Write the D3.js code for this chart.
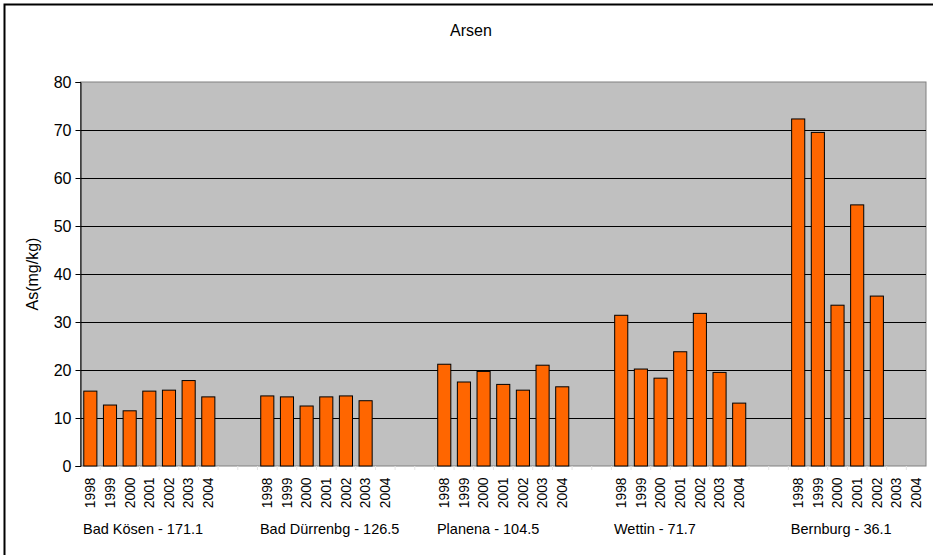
<!DOCTYPE html>
<html>
<head>
<meta charset="utf-8">
<script src="https://cdn.jsdelivr.net/npm/d3@7/dist/d3.min.js"></script>
<style>
  html, body { margin: 0; padding: 0; background: #fff; }
  svg { display: block; font-family: "Liberation Sans", Arial, sans-serif; }
</style>
</head>
<body>
<svg id="chart" width="933" height="555"></svg>
<script>
// ---- data ----
const title = "Arsen";
const yAxisTitle = "As(mg/kg)";
const years = ["1998", "1999", "2000", "2001", "2002", "2003", "2004"];
const groupLabels = ["Bad Kösen - 171.1", "Bad Dürrenbg - 126.5", "Planena - 104.5", "Wettin - 71.7", "Bernburg - 36.1"];
const badKoesen   = [15.6, 12.7, 11.5, 15.6, 15.8, 17.8, 14.4];
const badDuerrenbg = [14.6, 14.4, 12.5, 14.4, 14.6, 13.6, null];
const planena     = [21.2, 17.5, 19.7, 17.0, 15.8, 21.0, 16.5];
const wettin      = [31.4, 20.2, 18.3, 23.8, 31.8, 19.5, 13.1];
const bernburg    = [72.3, 69.5, 33.5, 54.4, 35.4, null, null];
const yTicks = [0, 10, 20, 30, 40, 50, 60, 70, 80];

const seriesByGroup = [badKoesen, badDuerrenbg, planena, wettin, bernburg];

// build slot list (7 years per group, 2 empty slots between groups)
const slots = [];
seriesByGroup.forEach((vals, gi) => {
  years.forEach((yr, yi) => slots.push({ key: gi + "-" + yr, group: gi, year: yr, value: vals[yi], yi }));
  if (gi < seriesByGroup.length - 1) {
    slots.push({ key: gi + "-gapA", spacer: true });
    slots.push({ key: gi + "-gapB", spacer: true });
  }
});

const svg = d3.select("#chart");
const plot = { left: 80.5, right: 926, top: 82, bottom: 466 };

// outer frame (bottom and right edges fall outside the picture)
svg.append("rect")
  .attr("x", 4.5).attr("y", 4.5)
  .attr("width", 940).attr("height", 560)
  .attr("fill", "#fff").attr("stroke", "#000").attr("stroke-width", 2);

const x = d3.scaleBand()
  .domain(slots.map(d => d.key))
  .range([plot.left, plot.right])
  .paddingInner(1 / 3)
  .paddingOuter(1 / 6);

const y = d3.scaleLinear().domain([0, 80]).range([plot.bottom, plot.top]);

// plot area
svg.append("rect")
  .attr("x", plot.left).attr("y", plot.top)
  .attr("width", plot.right - plot.left).attr("height", plot.bottom - plot.top)
  .attr("fill", "#C0C0C0").attr("stroke", "#808080").attr("stroke-width", 1);

// gridlines
svg.append("g").selectAll("line")
  .data(yTicks.filter(t => t > 0 && t < 80))
  .join("line")
  .attr("x1", plot.left).attr("x2", plot.right)
  .attr("y1", d => Math.round(y(d)) + 0.5).attr("y2", d => Math.round(y(d)) + 0.5)
  .attr("stroke", "#000").attr("stroke-width", 1);

// y axis
const yAxis = d3.axisLeft(y).tickValues(yTicks).tickSize(5).tickPadding(4);
const gy = svg.append("g")
  .attr("transform", `translate(${plot.left},0)`)
  .call(yAxis);
gy.select(".domain").attr("stroke", "#000");
gy.selectAll(".tick line").attr("stroke", "#000");
gy.selectAll("text").attr("font-size", 16).attr("fill", "#000")
  .attr("font-family", "Liberation Sans, Arial, sans-serif");

// bars
const step = x.step();
svg.append("g").selectAll("rect")
  .data(slots.filter(d => !d.spacer && d.value != null))
  .join("rect")
  .attr("x", d => x(d.key))
  .attr("y", d => y(d.value))
  .attr("width", x.bandwidth())
  .attr("height", d => y(0) - y(d.value))
  .attr("fill", "#FF6600")
  .attr("stroke", "#000")
  .attr("stroke-width", 1);

// faint category ticks at the bottom
svg.append("g").selectAll("line")
  .data(d3.range(1, slots.length))
  .join("line")
  .attr("x1", i => plot.left + i * step).attr("x2", i => plot.left + i * step)
  .attr("y1", plot.bottom).attr("y2", plot.bottom + 4)
  .attr("stroke", "#e4e4e4").attr("stroke-width", 1);

// year labels (rotated)
svg.append("g").selectAll("text")
  .data(slots.filter(d => !d.spacer))
  .join("text")
  .attr("transform", d => `translate(${x(d.key) + x.bandwidth() / 2},477.5) rotate(-90)`)
  .attr("dy", "0.35em")
  .attr("text-anchor", "end")
  .attr("font-size", 13.8)
  .attr("fill", "#000")
  .text(d => d.year);

// group labels
svg.append("g").selectAll("text")
  .data(groupLabels)
  .join("text")
  .attr("x", (d, i) => x(i + "-1998") - step / 6 + 2.5)
  .attr("y", 534)
  .attr("font-size", 14.5)
  .attr("fill", "#000")
  .text(d => d);

// title
svg.append("text")
  .attr("x", 471).attr("y", 36)
  .attr("text-anchor", "middle")
  .attr("font-size", 16)
  .attr("fill", "#000")
  .text(title);

// y axis title
svg.append("text")
  .attr("transform", "translate(38,274) rotate(-90)")
  .attr("text-anchor", "middle")
  .attr("font-size", 16)
  .attr("fill", "#000")
  .text(yAxisTitle);
</script>
</body>
</html>
